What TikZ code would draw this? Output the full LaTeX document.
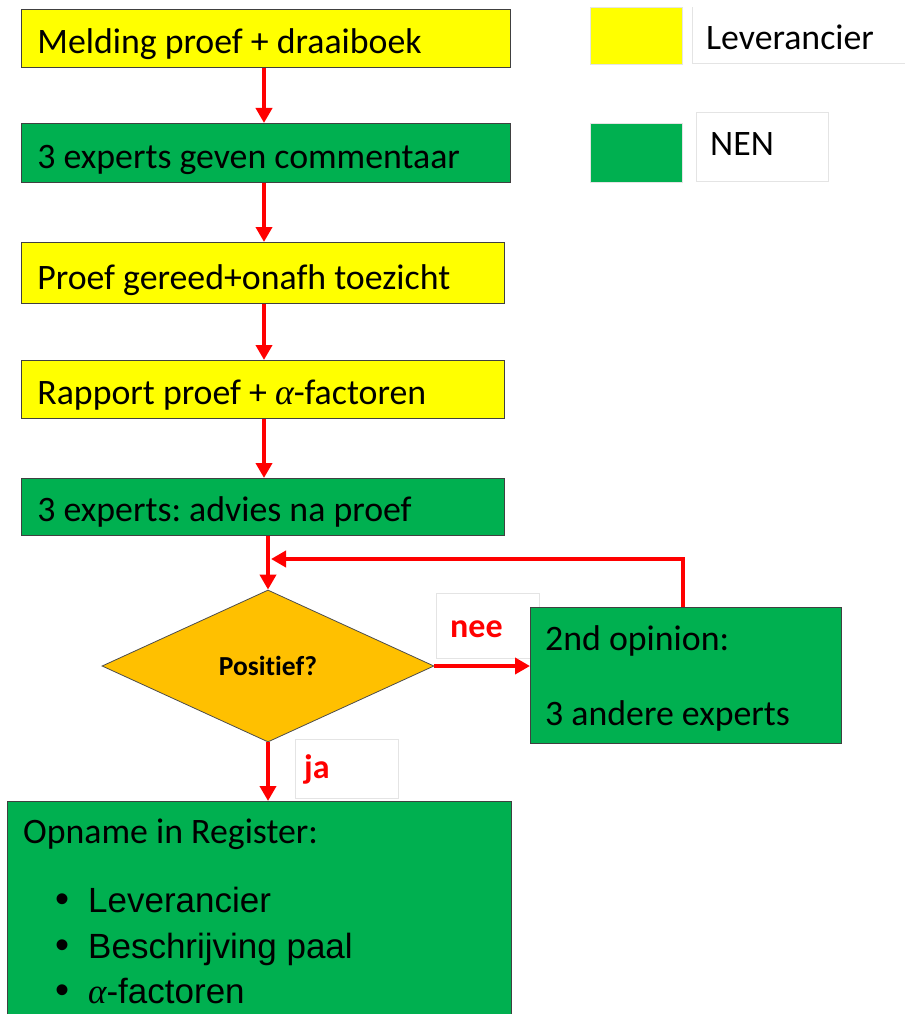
\documentclass[tikz,border=0pt]{standalone}
\usepackage{fontspec}
\setmainfont{Carlito}[Ligatures={NoCommon}]
\newfontfamily\arialf{Liberation Sans}
\newfontfamily\seriff{Liberation Serif}
\usetikzlibrary{shapes.geometric,arrows.meta}
\definecolor{ngreen}{HTML}{00B050}
\definecolor{nyellow}{HTML}{FFFF00}
\definecolor{dorange}{HTML}{FFC000}
\definecolor{lgray}{HTML}{E4E4E4}
\newcommand{\alp}{{\seriff\itshape α}}
\frenchspacing
\begin{document}
\begin{tikzpicture}[x=1pt,y=-1pt,
  stepbox/.style={draw=black!75, line width=0.8pt, anchor=north west, inner ysep=0pt, inner xsep=16pt, align=flush left, text depth=14pt, font=\fontsize{35.8}{42}\selectfont},
  ybox/.style={stepbox, fill=nyellow},
  gbox/.style={stepbox, fill=ngreen},
  arr/.style={draw=red, line width=4.5pt, -{Triangle[length=15pt,width=16pt]}},
  bigtxt/.style={anchor=base west, inner sep=0pt, font=\fontsize{35.8}{42}\selectfont},
  bultxt/.style={anchor=base west, inner sep=0pt, font=\arialf\fontsize{35}{42}\selectfont},
  lbl/.style={anchor=base west, inner sep=0pt, text=red, font=\bfseries\fontsize{34}{40}\selectfont},
  lblbox/.style={draw=lgray, fill=white, line width=0.8pt},
  swatch/.style={draw=lgray, line width=0.8pt}
]
\useasboundingbox (0,0) rectangle (905,1014);
\clip (0,0) rectangle (905,1014);

% legend
\path[swatch, fill=nyellow] (590,7) rectangle (682,64);
\draw[lgray, line width=0.8pt] (692,7) -- (692,63) -- (905,63);
\node[bigtxt] (lev) at (706,50) {Leverancier};
\path[swatch, fill=ngreen] (590,123) rectangle (682,182);
\draw[lgray, line width=0.8pt] (696,112) rectangle (828,181);
\node[bigtxt] (nen) at (710,155) {NEN};

% steps
\node[ybox, text width=457pt, text height=44pt] (b1) at (21,9) {Melding proef + draaiboek};
\node[gbox, text width=457pt, text height=45pt] (b2) at (21,123) {3 experts geven commentaar};
\node[ybox, text width=451pt, text height=47pt] (b3) at (21,242) {Proef gereed+onafh toezicht};
\node[ybox, text width=451pt, text height=44pt] (b4) at (21,360) {Rapport proef + \alp-factoren};
\node[gbox, text width=451pt, text height=43pt] (b5) at (21,478) {3 experts: advies na proef};

\coordinate (ax) at (264,0);
\draw[arr] (b1.south -| ax) -- (b2.north -| ax);
\draw[arr] (b2.south -| ax) -- (b3.north -| ax);
\draw[arr] (b3.south -| ax) -- (b4.north -| ax);
\draw[arr] (b4.south -| ax) -- (b5.north -| ax);

% decision
\node[diamond, draw=black!70, line width=0.8pt, fill=dorange, minimum width=332pt, minimum height=152pt, inner sep=0pt, font=\bfseries\fontsize{27.5}{30}\selectfont] (dia) at (268,666) {Positief?};
\draw[arr] (b5.south -| dia.north) -- (dia.north);

% label boxes
\draw[lblbox] (436,593) rectangle (539,658);
\node[lbl] (nee) at (450,637) {nee};
\draw[lblbox] (295,739) rectangle (398,798);
\node[lbl] (ja) at (304,778) {ja};

% second opinion
\node[draw=black!75, line width=0.8pt, fill=ngreen, anchor=north west, minimum width=311pt, minimum height=136pt, inner sep=0pt] (op) at (530,607) {};
\node[bigtxt] (op1) at (545,650) {2nd opinion:};
\node[bigtxt] (op2) at (545,725) {3 andere experts};

\draw[arr] (dia.east) -- (op.west |- dia.east);
\coordinate (lx) at (683,0);
\coordinate (lend) at (271,559);
\draw[arr] (op.north -| lx) |- (lend);

% register
\node[draw=black!75, line width=0.8pt, fill=ngreen, anchor=north west, minimum width=504pt, minimum height=240pt, inner sep=0pt] (reg) at (7,801) {};
\draw[arr] (dia.south) -- (dia.south |- reg.north);
\node[bigtxt] (r0) at (23,843) {Opname in Register:};
\node[bultxt] (d1) at (55,912) {\fontsize{40}{42}\selectfont •};
\node[bultxt] (r1) at (88,912) {Leverancier};
\node[bultxt] (d2) at (55,958) {\fontsize{40}{42}\selectfont •};
\node[bultxt] (r2) at (88,958) {Beschrijving paal};
\node[bultxt] (d3) at (55,1003) {\fontsize{40}{42}\selectfont •};
\node[bultxt] (r3) at (88,1003) {\alp-factoren};
\end{tikzpicture}
\end{document}
